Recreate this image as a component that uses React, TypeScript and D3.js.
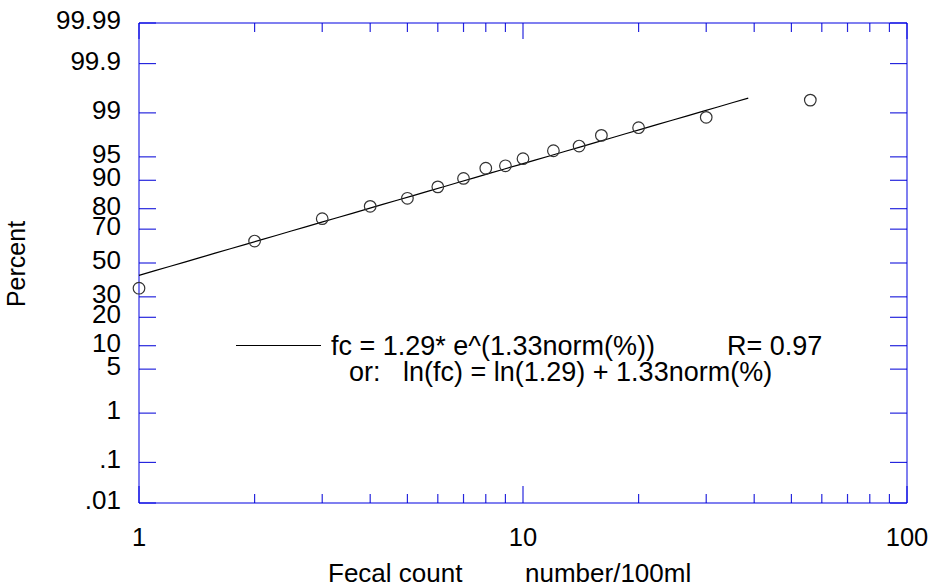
import React from "react";
import * as d3 from "d3";

const xValues = [1, 2, 3, 4, 5, 6, 7, 8, 9, 10, 12, 14, 16, 20, 30, 56];
const percentValues = [34.8, 63.3, 75.4, 81.0, 84.2, 88.1, 90.5, 92.9, 93.4, 94.7, 95.9, 96.5, 97.6, 98.2, 98.8, 99.42];
const yTickValues = [99.99, 99.9, 99, 95, 90, 80, 70, 50, 30, 20, 10, 5, 1, 0.1, 0.01];
const yTickLabels = ["99.99", "99.9", "99", "95", "90", "80", "70", "50", "30", "20", "10", "5", "1", ".1", ".01"];
const xMajorTicks = [1, 10, 100];
const xMinorTicks = [2, 3, 4, 5, 6, 7, 8, 9, 20, 30, 40, 50, 60, 70, 80, 90];
const fitA = 1.29;
const fitB = 1.33;
const fitRange = [1, 38.6];
const legendLine1 = "fc = 1.29* e^(1.33norm(%))";
const legendR = "R= 0.97";
const legendLine2 = "or:   ln(fc) = ln(1.29) + 1.33norm(%)";

// inverse normal CDF (Acklam)
function probit(p: number): number {
  const a = [-3.969683028665376e1, 2.209460984245205e2, -2.759285104469687e2, 1.38357751867269e2, -3.066479806614716e1, 2.506628277459239];
  const b = [-5.447609879822406e1, 1.615858368580409e2, -1.556989798598866e2, 6.680131188771972e1, -1.328068155288572e1];
  const c = [-7.784894002430293e-3, -3.223964580411365e-1, -2.400758277161838, -2.549732539343734, 4.374664141464968, 2.938163982698783];
  const d = [7.784695709041462e-3, 3.224671290700398e-1, 2.445134137142996, 3.754408661907416];
  const pl = 0.02425;
  if (p < pl) {
    const q = Math.sqrt(-2 * Math.log(p));
    return (((((c[0] * q + c[1]) * q + c[2]) * q + c[3]) * q + c[4]) * q + c[5]) / ((((d[0] * q + d[1]) * q + d[2]) * q + d[3]) * q + 1);
  } else if (p <= 1 - pl) {
    const q = p - 0.5;
    const r = q * q;
    return ((((((a[0] * r + a[1]) * r + a[2]) * r + a[3]) * r + a[4]) * r + a[5]) * q) / (((((b[0] * r + b[1]) * r + b[2]) * r + b[3]) * r + b[4]) * r + 1);
  } else {
    const q = Math.sqrt(-2 * Math.log(1 - p));
    return -(((((c[0] * q + c[1]) * q + c[2]) * q + c[3]) * q + c[4]) * q + c[5]) / ((((d[0] * q + d[1]) * q + d[2]) * q + d[3]) * q + 1);
  }
}

const W = 933;
const H = 588;
const L = 139;
const R = 907;
const T = 23;
const B = 503;

export default function App() {
  const x = d3.scaleLog().domain([1, 100]).range([L, R]);
  const zMax = probit(0.9999);
  const zScale = d3.scaleLinear().domain([-zMax, zMax]).range([B, T]);
  const y = (pct: number) => zScale(probit(pct / 100));

  const lineData = d3.range(0, 41).map((i) => {
    const xv = Math.exp(Math.log(fitRange[0]) + (i / 40) * (Math.log(fitRange[1]) - Math.log(fitRange[0])));
    return { x: xv, z: (Math.log(xv) - Math.log(fitA)) / fitB };
  });
  const fitPath = d3.line<{ x: number; z: number }>().x((d) => x(d.x)).y((d) => zScale(d.z))(lineData) || "";

  const frameColor = "rgba(0,0,225,0.5)";
  const tickColor = "rgba(0,0,215,0.85)";
  const font = "'Liberation Sans', Arial, Helvetica, sans-serif";

  return (
    <svg width={W} height={H} style={{ position: "absolute", left: 0, top: 0, background: "#fff" }} fontFamily={font}>
      <rect x={0} y={0} width={W} height={H} fill="#fff" />
      {/* frame */}
      <g stroke={frameColor} strokeWidth={2} fill="none">
        <line x1={L} y1={T} x2={R} y2={T} />
        <line x1={L} y1={B} x2={R} y2={B} />
        <line x1={L} y1={T} x2={L} y2={B} />
        <line x1={R} y1={T} x2={R} y2={B} />
      </g>
      {/* y ticks */}
      <g>
        {yTickValues.map((v, i) => {
          const edge = i === 0 || i === yTickValues.length - 1;
          const st = edge ? frameColor : tickColor;
          const sw = edge ? 2 : 1.2;
          return (
            <g key={"yt" + i}>
              <line x1={L} x2={L + 17} y1={y(v)} y2={y(v)} stroke={st} strokeWidth={sw} />
              <line x1={R - 17} x2={R} y1={y(v)} y2={y(v)} stroke={st} strokeWidth={sw} />
            </g>
          );
        })}
      </g>
      {/* x ticks */}
      <g>
        {xMajorTicks.map((v, i) => {
          const edge = v === 1 || v === 100;
          const st = edge ? frameColor : tickColor;
          const sw = edge ? 2 : 1.2;
          return (
            <g key={"xm" + i}>
              <line x1={x(v)} x2={x(v)} y1={T} y2={T + 16} stroke={st} strokeWidth={sw} />
              <line x1={x(v)} x2={x(v)} y1={B - 17} y2={B} stroke={st} strokeWidth={sw} />
            </g>
          );
        })}
        {xMinorTicks.map((v, i) => (
          <g key={"xn" + i}>
            <line x1={x(v)} x2={x(v)} y1={T} y2={T + 9} stroke={tickColor} strokeWidth={1.2} />
            <line x1={x(v)} x2={x(v)} y1={B - 9} y2={B} stroke={tickColor} strokeWidth={1.2} />
          </g>
        ))}
      </g>
      {/* y tick labels */}
      <g fontSize={26} fill="#000" textAnchor="end">
        {yTickValues.map((v, i) => (
          <text key={"yl" + i} x={121} y={y(v) + 6}>
            {yTickLabels[i]}
          </text>
        ))}
      </g>
      {/* x tick labels */}
      <g fontSize={25.5} fill="#000" textAnchor="middle">
        {xMajorTicks.map((v, i) => (
          <text key={"xl" + i} x={x(v)} y={546}>
            {String(v)}
          </text>
        ))}
      </g>
      {/* axis titles */}
      <text x={25} y={264} fontSize={25} textAnchor="middle" transform="rotate(-90 25 264)">
        Percent
      </text>
      <text x={328} y={582} fontSize={26}>
        Fecal count
      </text>
      <text x={525} y={582} fontSize={26}>
        number/100ml
      </text>
      {/* fit line */}
      <path d={fitPath} fill="none" stroke="#000" strokeWidth={1.2} />
      {/* points */}
      <g fill="none" stroke="#333" strokeWidth={1.2}>
        {xValues.map((v, i) => (
          <circle key={"p" + i} cx={x(v)} cy={y(percentValues[i])} r={5.8} />
        ))}
      </g>
      {/* legend */}
      <line x1={236} x2={321} y1={345.5} y2={345.5} stroke="#000" strokeWidth={1} />
      <text x={331} y={355} fontSize={27}>
        {legendLine1}
      </text>
      <text x={727} y={355} fontSize={27}>
        {legendR}
      </text>
      <text x={349} y={381} fontSize={27} style={{ whiteSpace: "pre" }}>
        {legendLine2}
      </text>
    </svg>
  );
}
